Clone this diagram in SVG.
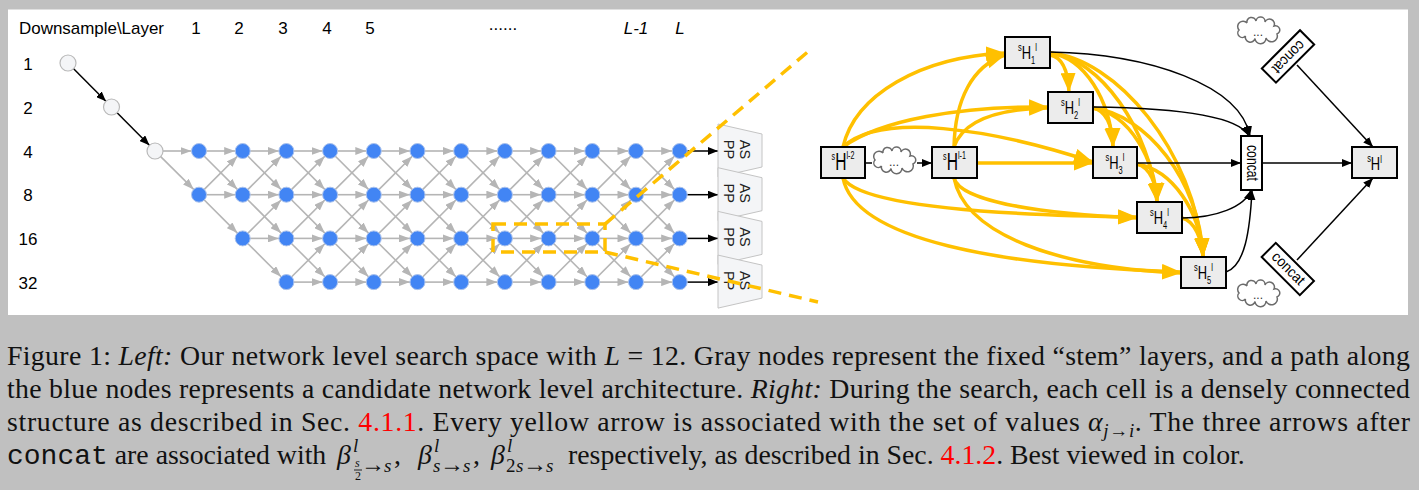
<svg xmlns="http://www.w3.org/2000/svg" width="1419" height="490" viewBox="0 0 1419 490">
<defs>
<style>
.lbl{font-family:"Liberation Sans",Arial,sans-serif;font-size:17px;fill:#000}
.ge{stroke:#b5b5b5;stroke-width:1.6;marker-end:url(#mg);fill:none}
.stem{fill:#f4f5f7;stroke:#b9b9b9;stroke-width:1.2}
.bn{fill:#4285f4;stroke:#a9c1ec;stroke-width:1}
.aspp{fill:#f4f5f7;stroke:#c4c4c4;stroke-width:1}
.asppt{font-family:"Liberation Sans",Arial,sans-serif;font-size:14.5px;fill:#222}
.dash{fill:none;stroke:#ffc000;stroke-width:3.5;stroke-dasharray:13 8}
.box{fill:#ececec;stroke:#000;stroke-width:2}
.yl{fill:none;stroke:#ffc000;stroke-width:3.5;marker-end:url(#my)}
.bl{fill:none;stroke:#000;stroke-width:1.5;marker-end:url(#mb)}
.ht{font-family:"Liberation Sans",Arial,sans-serif;fill:#000}
.cloud{fill:#fff;stroke:#6b6b6b;stroke-width:1.5}
.dots{font-family:"Liberation Sans",Arial,sans-serif;font-size:12px;fill:#333}
.cap{font-family:"Liberation Serif","Times New Roman",serif;font-size:27.8px;fill:#111}
.it{font-style:italic}
.red{fill:#ff0000}
.sc{font-size:19px}
.ar{font-size:24px}
</style>
<marker id="mg" markerUnits="userSpaceOnUse" markerWidth="11" markerHeight="8" viewBox="0 0 11 8" refX="11" refY="4" orient="auto"><path d="M0,0 L11,4 L0,8 z" fill="#b5b5b5"/></marker>
<marker id="mb" markerUnits="userSpaceOnUse" markerWidth="10" markerHeight="8" viewBox="0 0 10 8" refX="10" refY="4" orient="auto"><path d="M0,0 L10,4 L0,8 z" fill="#000"/></marker>
<marker id="my" markerUnits="userSpaceOnUse" markerWidth="19" markerHeight="15" viewBox="0 0 19 15" refX="19" refY="7.5" orient="auto"><path d="M0,0 L19,7.5 L0,15 z" fill="#ffc000"/></marker>
<line id="eh" x1="7.5" y1="0" x2="36.2" y2="0"/>
<line id="ed" x1="5.3" y1="5.3" x2="38.4" y2="38.4"/>
<line id="eu" x1="5.3" y1="-5.3" x2="38.4" y2="-38.4"/>
<g id="colF"><use href="#eh"/><use href="#eh" y="43.7"/><use href="#eh" y="87.4"/><use href="#eh" y="131.1"/><use href="#ed"/><use href="#ed" y="43.7"/><use href="#ed" y="87.4"/><use href="#eu" y="43.7"/><use href="#eu" y="87.4"/><use href="#eu" y="131.1"/></g>
<path id="cloudP" d="M-12.5,6 A1,1 0 0 1 -19,0 A1,1 0 0 1 -11,-7 A1,1 0 0 1 -2,-9 A1,1 0 0 1 7,-8 A1,1 0 0 1 16,-4 A1,1 0 0 1 19,4 A1,1 0 0 1 8,8 A1,1 0 0 1 -3,8.5 A1,1 0 0 1 -12.5,6 Z"/>
</defs>
<rect width="1419" height="490" fill="#c0c0c0"/>
<rect x="8" y="9.5" width="1400" height="305.5" fill="#fff"/>

<g id="left-labels" class="lbl">
<text x="19" y="34" textLength="145" lengthAdjust="spacingAndGlyphs">Downsample\Layer</text>
<text x="196" y="34" text-anchor="middle">1</text>
<text x="239" y="34" text-anchor="middle">2</text>
<text x="283" y="34" text-anchor="middle">3</text>
<text x="327" y="34" text-anchor="middle">4</text>
<text x="370" y="34" text-anchor="middle">5</text>
<text x="503" y="29.5" text-anchor="middle">......</text>
<text x="636" y="34" text-anchor="middle" class="it">L-1</text>
<text x="680" y="34" text-anchor="middle" class="it">L</text>
<text x="28" y="70" text-anchor="middle">1</text>
<text x="28" y="113.5" text-anchor="middle">2</text>
<text x="28" y="157.5" text-anchor="middle">4</text>
<text x="28" y="201" text-anchor="middle">8</text>
<text x="28" y="245" text-anchor="middle">16</text>
<text x="28" y="288.5" text-anchor="middle">32</text>
</g>

<g id="grid-connectors">
<g class="ge">
<line x1="163" y1="151" x2="191.5" y2="151"/>
<line x1="160.7" y1="156.6" x2="193.7" y2="189.4"/>
<use href="#eh" x="199" y="151"/><use href="#eh" x="199" y="194.7"/><use href="#ed" x="199" y="151"/><use href="#ed" x="199" y="194.7"/><use href="#eu" x="199" y="194.7"/>
<use href="#eh" x="242.7" y="151"/><use href="#eh" x="242.7" y="194.7"/><use href="#eh" x="242.7" y="238.4"/><use href="#ed" x="242.7" y="151"/><use href="#ed" x="242.7" y="194.7"/><use href="#ed" x="242.7" y="238.4"/><use href="#eu" x="242.7" y="194.7"/><use href="#eu" x="242.7" y="238.4"/>
<use href="#colF" x="286.4" y="151"/>
<use href="#colF" x="330.1" y="151"/>
<use href="#colF" x="373.8" y="151"/>
<use href="#colF" x="417.5" y="151"/>
<use href="#colF" x="461.2" y="151"/>
<use href="#colF" x="504.9" y="151"/>
<use href="#colF" x="548.6" y="151"/>
<use href="#colF" x="592.3" y="151"/>
<use href="#colF" x="636" y="151"/>
</g>
<g class="bl">
<line x1="73.6" y1="68.7" x2="105.9" y2="101.3"/>
<line x1="117.1" y1="112.7" x2="149.4" y2="145.3"/>
<line x1="687.2" y1="151" x2="718" y2="151"/>
<line x1="687.2" y1="194.7" x2="718" y2="194.7"/>
<line x1="687.2" y1="238.4" x2="718" y2="238.4"/>
<line x1="687.2" y1="282.1" x2="718" y2="282.1"/>
</g>
</g>

<g id="stem-nodes" class="stem">
<g id="stem1"><circle cx="68" cy="63" r="8"/></g>
<g id="stem2"><circle cx="111.5" cy="107" r="8"/></g>
<g id="stem3"><circle cx="155" cy="151" r="8"/></g>
</g>

<g id="blue-nodes" class="bn">
<g id="n1-1"><circle cx="199" cy="151" r="7.5"/></g>
<g id="n1-2"><circle cx="242.7" cy="151" r="7.5"/></g>
<g id="n1-3"><circle cx="286.4" cy="151" r="7.5"/></g>
<g id="n1-4"><circle cx="330.1" cy="151" r="7.5"/></g>
<g id="n1-5"><circle cx="373.8" cy="151" r="7.5"/></g>
<g id="n1-6"><circle cx="417.5" cy="151" r="7.5"/></g>
<g id="n1-7"><circle cx="461.2" cy="151" r="7.5"/></g>
<g id="n1-8"><circle cx="504.9" cy="151" r="7.5"/></g>
<g id="n1-9"><circle cx="548.6" cy="151" r="7.5"/></g>
<g id="n1-10"><circle cx="592.3" cy="151" r="7.5"/></g>
<g id="n1-11"><circle cx="636" cy="151" r="7.5"/></g>
<g id="n1-12"><circle cx="679.7" cy="151" r="7.5"/></g>
<g id="n2-1"><circle cx="199" cy="194.7" r="7.5"/></g>
<g id="n2-2"><circle cx="242.7" cy="194.7" r="7.5"/></g>
<g id="n2-3"><circle cx="286.4" cy="194.7" r="7.5"/></g>
<g id="n2-4"><circle cx="330.1" cy="194.7" r="7.5"/></g>
<g id="n2-5"><circle cx="373.8" cy="194.7" r="7.5"/></g>
<g id="n2-6"><circle cx="417.5" cy="194.7" r="7.5"/></g>
<g id="n2-7"><circle cx="461.2" cy="194.7" r="7.5"/></g>
<g id="n2-8"><circle cx="504.9" cy="194.7" r="7.5"/></g>
<g id="n2-9"><circle cx="548.6" cy="194.7" r="7.5"/></g>
<g id="n2-10"><circle cx="592.3" cy="194.7" r="7.5"/></g>
<g id="n2-11"><circle cx="636" cy="194.7" r="7.5"/></g>
<g id="n2-12"><circle cx="679.7" cy="194.7" r="7.5"/></g>
<g id="n3-2"><circle cx="242.7" cy="238.4" r="7.5"/></g>
<g id="n3-3"><circle cx="286.4" cy="238.4" r="7.5"/></g>
<g id="n3-4"><circle cx="330.1" cy="238.4" r="7.5"/></g>
<g id="n3-5"><circle cx="373.8" cy="238.4" r="7.5"/></g>
<g id="n3-6"><circle cx="417.5" cy="238.4" r="7.5"/></g>
<g id="n3-7"><circle cx="461.2" cy="238.4" r="7.5"/></g>
<g id="n3-8"><circle cx="504.9" cy="238.4" r="7.5"/></g>
<g id="n3-9"><circle cx="548.6" cy="238.4" r="7.5"/></g>
<g id="n3-10"><circle cx="592.3" cy="238.4" r="7.5"/></g>
<g id="n3-11"><circle cx="636" cy="238.4" r="7.5"/></g>
<g id="n3-12"><circle cx="679.7" cy="238.4" r="7.5"/></g>
<g id="n4-3"><circle cx="286.4" cy="282.1" r="7.5"/></g>
<g id="n4-4"><circle cx="330.1" cy="282.1" r="7.5"/></g>
<g id="n4-5"><circle cx="373.8" cy="282.1" r="7.5"/></g>
<g id="n4-6"><circle cx="417.5" cy="282.1" r="7.5"/></g>
<g id="n4-7"><circle cx="461.2" cy="282.1" r="7.5"/></g>
<g id="n4-8"><circle cx="504.9" cy="282.1" r="7.5"/></g>
<g id="n4-9"><circle cx="548.6" cy="282.1" r="7.5"/></g>
<g id="n4-10"><circle cx="592.3" cy="282.1" r="7.5"/></g>
<g id="n4-11"><circle cx="636" cy="282.1" r="7.5"/></g>
<g id="n4-12"><circle cx="679.7" cy="282.1" r="7.5"/></g>
</g>

<g id="aspp1"><polygon class="aspp" points="718,124 762,134 762,167 718,177"/><text class="asppt" transform="translate(739.5,149.5) rotate(90)" text-anchor="middle">AS</text><text class="asppt" transform="translate(739.5,149.5) rotate(90)" y="16" text-anchor="middle">PP</text></g>
<g id="aspp2"><polygon class="aspp" points="718,167.7 762,177.7 762,210.7 718,220.7"/><text class="asppt" transform="translate(739.5,193.2) rotate(90)" text-anchor="middle">AS</text><text class="asppt" transform="translate(739.5,193.2) rotate(90)" y="16" text-anchor="middle">PP</text></g>
<g id="aspp3"><polygon class="aspp" points="718,211.4 762,221.4 762,254.4 718,264.4"/><text class="asppt" transform="translate(739.5,236.9) rotate(90)" text-anchor="middle">AS</text><text class="asppt" transform="translate(739.5,236.9) rotate(90)" y="16" text-anchor="middle">PP</text></g>
<g id="aspp4"><polygon class="aspp" points="718,255.1 762,265.1 762,298.1 718,308.1"/><text class="asppt" transform="translate(739.5,280.6) rotate(90)" text-anchor="middle">AS</text><text class="asppt" transform="translate(739.5,280.6) rotate(90)" y="16" text-anchor="middle">PP</text></g>

<g id="zoom-outline" class="dash">
<path d="M493,224 H605 V252 H493 Z"/>
<path d="M605,224 L810,50"/>
<path d="M605,252 L818,302"/>
</g>

<g id="cell-connectors">
<g class="yl">
<path d="M843,147 C855,95 920,57 1005,53"/>
<path d="M954,147 C955,100 972,66 1005,55"/>
<path d="M843,147 C880,120 960,106 1048,107"/>
<path d="M954,147 C963,121 995,109 1048,108"/>
<path d="M843,147 C880,112 990,128 1093,162"/>
<path d="M977,163 L1093,163"/>
<path d="M843,178 C860,205 980,215 1137,217"/>
<path d="M954,178 C960,200 1030,213 1137,218"/>
<path d="M843,178 C855,240 1000,266 1181,272"/>
<path d="M954,178 C965,235 1060,268 1181,273"/>
<path d="M1050,55 C1062,57 1068,70 1069,92"/>
<path d="M1050,53 C1085,58 1110,100 1113,147"/>
<path d="M1050,53 C1100,58 1150,130 1157,202"/>
<path d="M1050,53 C1115,58 1195,150 1203,257"/>
<path d="M1093,108 C1105,110 1113,125 1113,147"/>
<path d="M1093,108 C1130,114 1155,160 1157,202"/>
<path d="M1093,108 C1145,114 1200,180 1203,257"/>
<path d="M1137,164 C1150,167 1157,185 1157,202"/>
<path d="M1137,164 C1172,170 1200,210 1203,257"/>
<path d="M1182,218 C1195,221 1202,240 1203,257"/>
</g>
<g class="bl">
<path d="M1050,52 C1150,54 1240,85 1250,136"/>
<path d="M1093,107 C1175,108 1238,115 1249,136"/>
<path d="M1137,163 L1241,163"/>
<path d="M1182,218 C1215,218 1245,207 1251,190"/>
<path d="M1226,272 C1245,266 1250,230 1252,190"/>
<path d="M1262,163 L1352,163"/>
<path d="M1297,65 L1373,147"/>
<path d="M1297,260 L1373,178"/>
<path d="M917,163 L932,163"/>
<path d="M865,163 L872,163" marker-end="none"/>
</g>
</g>

<g id="Hm2"><rect class="box" x="821" y="147" width="44" height="31"/><text class="ht" transform="translate(843,170) scale(0.65,1)" text-anchor="middle"><tspan font-size="11" dy="-10">s</tspan><tspan font-size="24" dy="10">H</tspan><tspan font-size="11" dy="-11.5">l-2</tspan></text></g>
<g id="cloud-mid"><use href="#cloudP" class="cloud" x="894" y="160"/><text class="dots" x="894" y="166" text-anchor="middle">...</text></g>
<g id="Hm1"><rect class="box" x="932" y="147" width="45" height="31"/><text class="ht" transform="translate(954.5,170) scale(0.65,1)" text-anchor="middle"><tspan font-size="11" dy="-10">s</tspan><tspan font-size="24" dy="10">H</tspan><tspan font-size="11" dy="-11.5">l-1</tspan></text></g>
<g id="H1"><rect class="box" x="1005" y="37" width="45" height="31"/><text class="ht" transform="translate(1027.5,59) scale(0.68,1)" text-anchor="middle"><tspan font-size="11" dy="-8.5">s</tspan><tspan font-size="19" dy="8.5">H</tspan><tspan font-size="11" dy="4.5">1</tspan><tspan font-size="11" dy="-13">l</tspan></text></g>
<g id="H2"><rect class="box" x="1048" y="92" width="45" height="31"/><text class="ht" transform="translate(1070.5,114) scale(0.68,1)" text-anchor="middle"><tspan font-size="11" dy="-8.5">s</tspan><tspan font-size="19" dy="8.5">H</tspan><tspan font-size="11" dy="4.5">2</tspan><tspan font-size="11" dy="-13">l</tspan></text></g>
<g id="H3"><rect class="box" x="1093" y="147" width="44" height="31"/><text class="ht" transform="translate(1115,169) scale(0.68,1)" text-anchor="middle"><tspan font-size="11" dy="-8.5">s</tspan><tspan font-size="19" dy="8.5">H</tspan><tspan font-size="11" dy="4.5">3</tspan><tspan font-size="11" dy="-13">l</tspan></text></g>
<g id="H4"><rect class="box" x="1137" y="202" width="45" height="31"/><text class="ht" transform="translate(1159.5,224) scale(0.68,1)" text-anchor="middle"><tspan font-size="11" dy="-8.5">s</tspan><tspan font-size="19" dy="8.5">H</tspan><tspan font-size="11" dy="4.5">4</tspan><tspan font-size="11" dy="-13">l</tspan></text></g>
<g id="H5"><rect class="box" x="1181" y="257" width="45" height="31"/><text class="ht" transform="translate(1203.5,279) scale(0.68,1)" text-anchor="middle"><tspan font-size="11" dy="-8.5">s</tspan><tspan font-size="19" dy="8.5">H</tspan><tspan font-size="11" dy="4.5">5</tspan><tspan font-size="11" dy="-13">l</tspan></text></g>
<g id="concat"><rect x="1241" y="136" width="21" height="54" fill="#fff" stroke="#000" stroke-width="2"/><text class="ht" font-size="16" transform="translate(1246.5,163) rotate(90)" x="-18" textLength="36" lengthAdjust="spacingAndGlyphs">concat</text></g>
<g id="HL"><rect class="box" x="1352" y="147" width="45" height="31"/><text class="ht" transform="translate(1374.5,170) scale(0.68,1)" text-anchor="middle"><tspan font-size="11" dy="-8">s</tspan><tspan font-size="19" dy="8">H</tspan><tspan font-size="11" dy="-7">l</tspan></text></g>
<g id="concat-top" transform="translate(1288,56.4) rotate(135)"><rect x="-27" y="-10" width="54" height="20" fill="#fff" stroke="#000" stroke-width="2"/><text class="ht" font-size="15" x="-20" y="4" textLength="40" lengthAdjust="spacingAndGlyphs">concat</text></g>
<g id="concat-bottom" transform="translate(1287.8,269) rotate(45)"><rect x="-27" y="-10" width="54" height="20" fill="#fff" stroke="#000" stroke-width="2"/><text class="ht" font-size="15" x="-20" y="4" textLength="40" lengthAdjust="spacingAndGlyphs">concat</text></g>
<g id="cloud-top"><use href="#cloudP" class="cloud" x="1258" y="30"/><text class="dots" x="1258" y="36" text-anchor="middle">...</text></g>
<g id="cloud-bottom"><use href="#cloudP" class="cloud" x="1258" y="293"/><text class="dots" x="1258" y="299" text-anchor="middle">...</text></g>

<g id="caption" class="cap">
<text x="7" y="365" textLength="1403" lengthAdjust="spacing">Figure 1: <tspan class="it">Left:</tspan> Our network level search space with <tspan class="it">L</tspan> = 12. Gray nodes represent the fixed “stem” layers, and a path along</text>
<text x="7" y="398" textLength="1403" lengthAdjust="spacing">the blue nodes represents a candidate network level architecture. <tspan class="it">Right:</tspan> During the search, each cell is a densely connected</text>
<text x="7" y="431" textLength="1403" lengthAdjust="spacing">structure as described in Sec. <tspan class="red">4.1.1</tspan>. Every yellow arrow is associated with the set of values <tspan class="it">α</tspan><tspan font-size="19" dy="6"><tspan class="it">j</tspan>→<tspan class="it">i</tspan></tspan><tspan dy="-6">. The three arrows after</tspan></text>
<text x="7" y="464"><tspan font-family="'Liberation Mono',monospace" font-size="28">concat</tspan> are associated with<tspan class="it" x="337">β</tspan><tspan class="it sc" x="353" y="452">l</tspan><tspan class="it" font-size="12" x="355" y="467">s</tspan><tspan font-size="12" x="355" y="480">2</tspan><tspan class="ar" x="361" y="471.5">→</tspan><tspan class="it sc" x="384" y="472">s</tspan><tspan x="394" y="464">,</tspan><tspan class="it" x="418">β</tspan><tspan class="it sc" x="434" y="452">l</tspan><tspan class="it sc" x="433" y="472">s</tspan><tspan class="ar" x="440" y="471.5">→</tspan><tspan class="it sc" x="463" y="472">s</tspan><tspan x="473" y="464">,</tspan><tspan class="it" x="491">β</tspan><tspan class="it sc" x="507" y="452">l</tspan><tspan class="sc" x="506" y="472">2</tspan><tspan class="it sc" x="516">s</tspan><tspan class="ar" x="523" y="471.5">→</tspan><tspan class="it sc" x="546" y="472">s</tspan><tspan x="568" y="464">respectively, as described in Sec. </tspan><tspan class="red">4.1.2</tspan>. Best viewed in color.</text>
<line x1="354" y1="470" x2="362" y2="470" stroke="#111" stroke-width="0.9"/>
</g>
</svg>
